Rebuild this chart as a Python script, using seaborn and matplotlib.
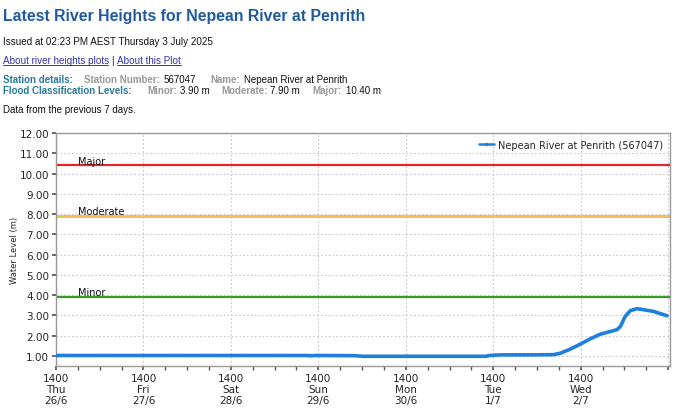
import matplotlib
matplotlib.use("Agg")
import matplotlib.pyplot as plt
import matplotlib.dates as mdates
from matplotlib.lines import Line2D
import seaborn as sns
import pandas as pd
import numpy as np

# ---- data ----
start = pd.Timestamp("2025-06-26 14:00")
hours = [0, 20, 44, 68, 70, 72, 82, 84, 100, 118, 119, 122, 130, 136.5, 138.4, 141.1,
         143.9, 146.6, 149.4, 152.1, 153.9, 154.9, 156.2, 157.6, 159.4, 161.1, 163.9, 167.7]
levels = [1.02, 1.02, 1.02, 1.02, 1.01, 1.02, 1.01, 0.98, 0.98, 0.98, 1.02, 1.05, 1.05, 1.06, 1.13, 1.33,
          1.58, 1.84, 2.07, 2.20, 2.29, 2.45, 2.95, 3.23, 3.33, 3.28, 3.20, 2.98]
flood_names = ["Minor", "Moderate", "Major"]
flood_levels = [3.90, 7.90, 10.40]
flood_colors = ["#3c9a2a", "#f4c05a", "#e3262a"]
series_label = "Nepean River at Penrith (567047)"

df = pd.DataFrame({"time": [start + pd.Timedelta(hours=h) for h in hours], "level": levels})

sns.set_theme(style="white")
plt.rcParams["font.family"] = ["DejaVu Sans"]

fig = plt.figure(figsize=(6.8, 4.1), dpi=100)
HF = "Liberation Sans"

# header text (HTML-like)
fig.text(3/680, 1 - 16/410, "Latest River Heights for Nepean River at Penrith", fontsize=11.4,
         fontweight="bold", color="#1f5aa0", family=HF, va="center")
fig.text(3/680, 1 - 42/410, "Issued at 02:23 PM AEST Thursday 3 July 2025", fontsize=7.1,
         color="#111111", family=HF, va="center")
fig.text(3/680, 1 - 61/410, "About river heights plots", fontsize=7.1, color="#3333aa",
         family=HF, va="center")
fig.text(111/680, 1 - 61/410, "|", fontsize=7.1, color="#111111", family=HF, va="center")
fig.text(117/680, 1 - 61/410, "About this Plot", fontsize=7.1, color="#3333aa",
         family=HF, va="center")
fig.add_artist(Line2D([3/680, 108/680], [1 - 66/410, 1 - 66/410], color="#3333aa", lw=0.7))
fig.add_artist(Line2D([117/680, 181/680], [1 - 66/410, 1 - 66/410], color="#3333aa", lw=0.7))

teal = "#2a7a9a"
grey = "#999999"
fs = 7.0
def row(y, parts):
    for x, s, c, w in parts:
        fig.text(x/680, 1 - y/410, s, fontsize=fs, color=c, fontweight=w,
                 family=HF, va="center")
row(80, [(3, "Station details:", teal, "bold"), (84, "Station Number:", grey, "bold"),
         (164, "567047", "#111111", "normal"), (210, "Name:", grey, "bold"),
         (244, "Nepean River at Penrith", "#111111", "normal")])
row(91, [(3, "Flood Classification Levels:", teal, "bold"), (147, "Minor:", grey, "bold"),
         (180, "3.90 m", "#111111", "normal"), (221, "Moderate:", grey, "bold"),
         (270, "7.90 m", "#111111", "normal"), (312, "Major:", grey, "bold"),
         (346, "10.40 m", "#111111", "normal")])
fig.text(3/680, 1 - 110/410, "Data from the previous 7 days.", fontsize=7, color="#111111",
         family=HF, va="center")

ax = fig.add_axes([56/680, 1 - 367/410, (670 - 56)/680, (367 - 134)/410])

for name, lvl, col in zip(flood_names, flood_levels, flood_colors):
    ax.axhline(lvl, color=col, lw=2.2 if name == "Moderate" else 1.6, zorder=2)
    ax.text(start + pd.Timedelta(hours=6), lvl + 0.08, name, fontsize=7, color="#111111",
            va="baseline", ha="left", zorder=3)

sns.lineplot(data=df, x="time", y="level", ax=ax, color="#1e7fdc", lw=2.6, zorder=4,
             legend=False)

ax.set_ylim(0.5, 12)
ax.set_xlim(start, start + pd.Timedelta(hours=168.5))
ax.set_yticks(np.arange(1, 12.01, 1))
ax.yaxis.set_major_formatter(matplotlib.ticker.FormatStrFormatter("%.2f"))

ax.xaxis.set_major_locator(mdates.HourLocator(byhour=[14]))
ax.xaxis.set_minor_locator(mdates.HourLocator(byhour=[2, 8, 14, 20]))
last = mdates.date2num(start + pd.Timedelta(hours=168))
def fmt(v, pos):
    if v >= last - 0.01:
        return ""
    return mdates.num2date(v).strftime("%H%M\n%a\n%-d/%-m")
ax.xaxis.set_major_formatter(matplotlib.ticker.FuncFormatter(fmt))

ax.grid(True, which="major", color="#c8c8c8", ls=(0, (1.5, 2)), lw=0.8)
ax.set_axisbelow(True)
for s in ax.spines.values():
    s.set_color("#999999")
    s.set_linewidth(1)

ax.tick_params(axis="both", which="major", labelsize=7.5, color="#555555", length=3,
               direction="out", bottom=True, left=True, pad=2)
ax.tick_params(axis="x", which="minor", length=3, color="#555555", bottom=True)
for lab in ax.get_xticklabels():
    lab.set_linespacing(1.1)

ax.set_xlabel("")
ax.set_ylabel("Water Level (m)", fontsize=6)
ax.yaxis.set_label_coords(-0.060, 0.5)

handle = Line2D([], [], color="#1e7fdc", lw=1.8, marker=".", markersize=3)
ax.legend([handle], [series_label], loc="upper right", frameon=False, fontsize=7,
          handlelength=1.6, borderaxespad=0.3, handletextpad=0.4)

fig.savefig("out.png", dpi=100)
